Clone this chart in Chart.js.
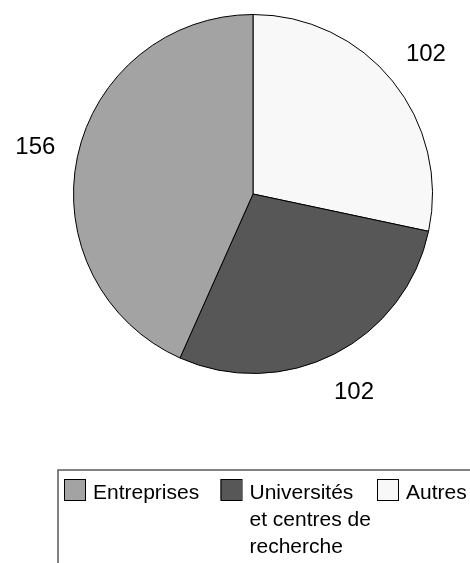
<!DOCTYPE html>
<html>
<head>
<meta charset="utf-8">
<script src="https://cdn.jsdelivr.net/npm/chart.js@4/dist/chart.umd.min.js"></script>
<style>
  html, body { margin: 0; padding: 0; background: #fff; overflow: hidden; }
  #wrap { width: 470px; height: 563px; }
</style>
</head>
<body>
<div id="wrap"><canvas id="pieChart" width="470" height="563"></canvas></div>
<script>
// Données du graphique (ordre de la légende)
const categories = ['Entreprises', 'Universités\net centres de\nrecherche', 'Autres'];
const values = [156, 102, 102];
const sliceColors = ['#a3a3a3', '#575757', '#f8f8f8'];

const FONT = "'Liberation Sans', Arial, sans-serif";

// Excel dessine les parts dans le sens horaire à partir du haut en commençant par la dernière
const pieLabels = categories.slice().reverse();
const pieValues = values.slice().reverse();
const pieColors = sliceColors.slice().reverse();

// Étiquettes de valeurs à l'extérieur du camembert
const outsideLabels = {
    id: 'outsideLabels',
    afterDatasetsDraw(chart) {
        const ctx = chart.ctx;
        const meta = chart.getDatasetMeta(0);
        ctx.save();
        ctx.font = '24px ' + FONT;
        ctx.fillStyle = '#000';
        ctx.textAlign = 'center';
        ctx.textBaseline = 'middle';
        meta.data.forEach((arc, i) => {
            const mid = (arc.startAngle + arc.endAngle) / 2;
            const r = arc.outerRadius + 43;
            ctx.fillText(String(pieValues[i]), arc.x + Math.cos(mid) * r, arc.y + Math.sin(mid) * r);
        });
        ctx.restore();
    }
};

// Légende encadrée en bas (texte sur plusieurs lignes)
const boxLegend = {
    id: 'boxLegend',
    afterDraw(chart) {
        const ctx = chart.ctx;
        ctx.save();
        ctx.strokeStyle = '#5a5a5a';
        ctx.lineWidth = 1.5;
        ctx.strokeRect(58, 470, 440, 120);

        ctx.font = '21px ' + FONT;
        ctx.textAlign = 'left';
        ctx.textBaseline = 'alphabetic';
        const left = 64, step = 156.5, boxSize = 21, boxTop = 479, baseline = 499, lineH = 27;
        categories.forEach((name, i) => {
            const x = left + i * step;
            ctx.fillStyle = sliceColors[i];
            ctx.fillRect(x, boxTop, boxSize, boxSize);
            ctx.strokeStyle = '#000';
            ctx.lineWidth = 1;
            ctx.strokeRect(x + 0.5, boxTop + 0.5, boxSize, boxSize);
            ctx.fillStyle = '#000';
            name.split('\n').forEach((line, j) => {
                ctx.fillText(line, x + 29, baseline + j * lineH);
            });
        });
        ctx.restore();
    }
};

new Chart(document.getElementById('pieChart'), {
    type: 'pie',
    data: {
        labels: pieLabels,
        datasets: [{
            data: pieValues,
            backgroundColor: pieColors,
            borderColor: '#000',
            borderWidth: 1
        }]
    },
    options: {
        responsive: false,
        animation: false,
        rotation: 0,
        layout: { padding: { left: 73, right: 37, top: 14, bottom: 189 } },
        plugins: {
            legend: { display: false },
            tooltip: { enabled: false }
        }
    },
    plugins: [outsideLabels, boxLegend]
});
</script>
</body>
</html>
